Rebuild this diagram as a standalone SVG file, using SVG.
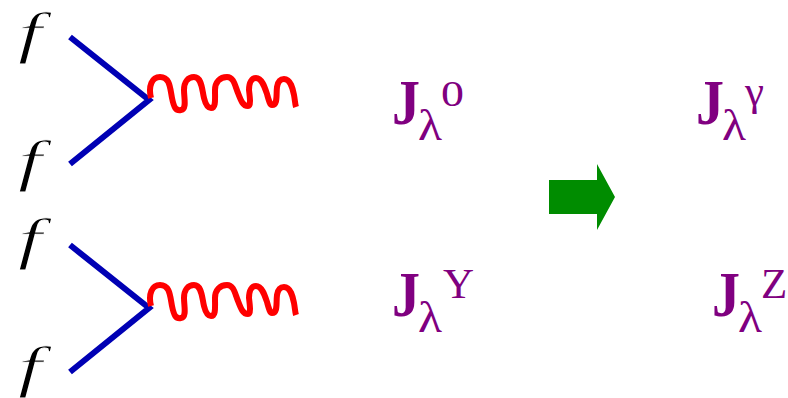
<svg xmlns="http://www.w3.org/2000/svg" width="788" height="398" viewBox="0 0 788 398">
<style>
.q{fill:none;stroke:#0000b4;stroke-width:6}
.w{fill:none;stroke:#ff0000;stroke-width:6;stroke-linejoin:round}
.f{font-family:"Liberation Serif",serif;font-style:italic;font-size:56px;fill:#000;stroke:#fff;stroke-width:1}
.t{font-family:"Liberation Serif",serif;fill:#800080}
.J{font-weight:bold;font-size:63px}
.l{font-size:45px}
.s{font-size:36px}
.c{font-size:43px}
</style>
<defs>
<g id="vertex">
<path class="q" d="M70 37L149 100L70 164"/>
<path class="w" d="M151 98C148 86 152 77 160 77C170 77 170 88 172 98C174 108 176 111 181 110C187 109 184 98 184 90C184 82 188 77 194 77C202 77 202 90 204 98C206 106 208 108 211 108C216 108 215 100 215 90C215 82 220 77 227 77C234 77 235 86 238 93C241 101 243 106 248 106C251 106 250 98 249 90C249 82 252 78 256 78C262 78 265 88 267 94C269 101 270 105 272 105C278 105 276 95 277 87C278 81 281 79 284 79C291 79 293 90 294 95C295 100 295 104 296 107"/>
</g>
</defs>
<g id="connectors">
<use href="#vertex"/>
<use href="#vertex" y="208"/>
</g>
<g id="f1"><text class="f" x="18" y="52" textLength="24" lengthAdjust="spacingAndGlyphs">f</text></g>
<g id="f2"><text class="f" x="18" y="180" textLength="24" lengthAdjust="spacingAndGlyphs">f</text></g>
<g id="f3"><text class="f" x="18" y="258" textLength="24" lengthAdjust="spacingAndGlyphs">f</text></g>
<g id="f4"><text class="f" x="18" y="386" textLength="24" lengthAdjust="spacingAndGlyphs">f</text></g>
<g id="j0"><text class="t J" x="392" y="124" textLength="28" lengthAdjust="spacingAndGlyphs">J</text><text class="t l" x="418" y="140" textLength="24" lengthAdjust="spacingAndGlyphs">λ</text><text class="t s" x="441" y="106" textLength="23" lengthAdjust="spacingAndGlyphs">0</text></g>
<g id="jy"><text class="t J" x="392" y="316" textLength="28" lengthAdjust="spacingAndGlyphs">J</text><text class="t l" x="418" y="332" textLength="24" lengthAdjust="spacingAndGlyphs">λ</text><text class="t c" x="443" y="298">Y</text></g>
<g id="jg"><text class="t J" x="696" y="124" textLength="28" lengthAdjust="spacingAndGlyphs">J</text><text class="t l" x="722" y="140" textLength="24" lengthAdjust="spacingAndGlyphs">λ</text><text class="t c" x="745" y="105">γ</text></g>
<g id="jz"><text class="t J" x="712" y="316" textLength="28" lengthAdjust="spacingAndGlyphs">J</text><text class="t l" x="738" y="332" textLength="24" lengthAdjust="spacingAndGlyphs">λ</text><text class="t c" x="761" y="298">Z</text></g>
<g id="arrow"><polygon points="549,180 597,180 597,164 615,197 597,230 597,214 549,214" fill="#008c00"/></g>
</svg>
